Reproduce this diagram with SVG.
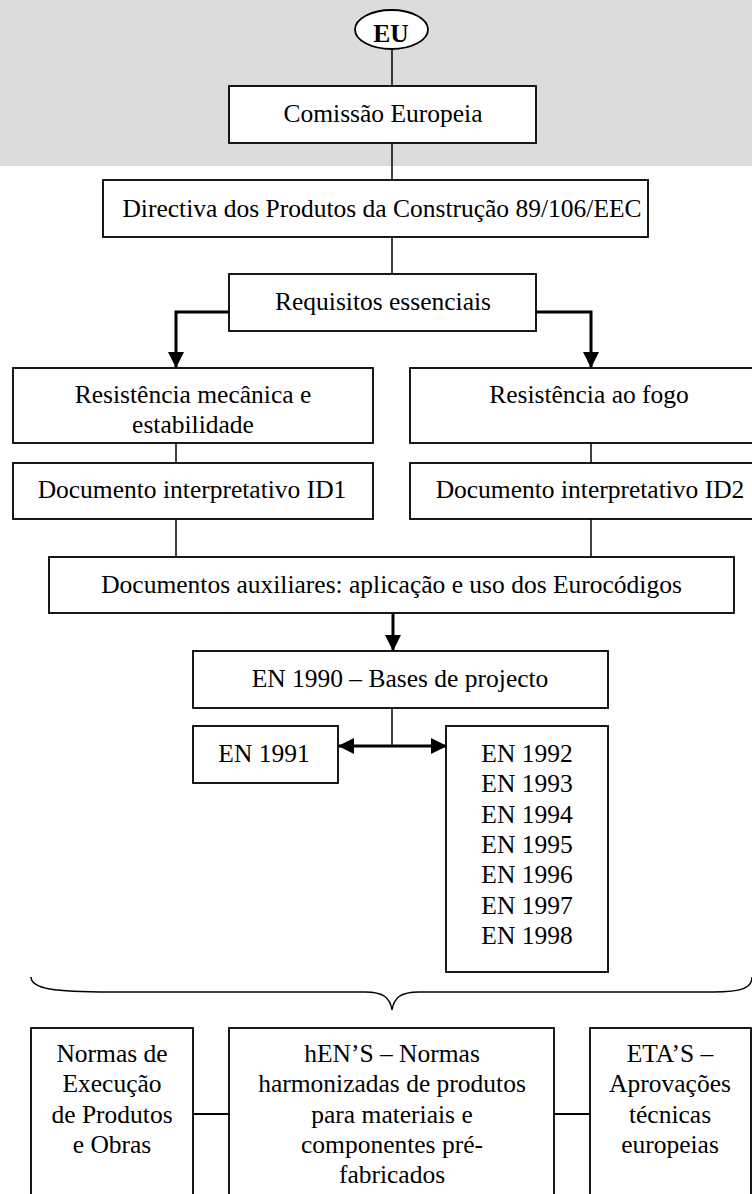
<svg xmlns="http://www.w3.org/2000/svg" width="752" height="1194" viewBox="0 0 752 1194">
<style>
.box{fill:#fff;stroke:#000;stroke-width:1.8}
.t{font-family:"Liberation Serif","Times New Roman",serif;font-size:25.5px;fill:#000;text-anchor:middle}
.thin{fill:none;stroke:#000;stroke-width:1.5}
.thick{fill:none;stroke:#000;stroke-width:3}
.mid{fill:none;stroke:#000;stroke-width:2}
</style>
<defs>
<marker id="ah" viewBox="0 0 16 16" refX="15" refY="8" markerWidth="16" markerHeight="16" markerUnits="userSpaceOnUse" orient="auto-start-reverse">
<path d="M0,0 L16,8 L0,16 z" fill="#000"/>
</marker>
</defs>
<rect x="0" y="0" width="752" height="166" fill="#dcdcdc"/>
<g id="connectors">
<line class="thin" x1="392" y1="49" x2="392" y2="86"/>
<line class="thin" x1="392" y1="143" x2="392" y2="180"/>
<line class="thin" x1="392" y1="237" x2="392" y2="274"/>
<path class="thick" d="M229,312 H176 V367" marker-end="url(#ah)"/>
<path class="thick" d="M536,312 H591 V367" marker-end="url(#ah)"/>
<line class="thin" x1="176" y1="443" x2="176" y2="463"/>
<line class="thin" x1="591" y1="443" x2="591" y2="463"/>
<line class="thin" x1="176" y1="519" x2="176" y2="557"/>
<line class="thin" x1="591" y1="519" x2="591" y2="557"/>
<line class="thick" x1="393" y1="613" x2="393" y2="650" marker-end="url(#ah)"/>
<line class="thin" x1="392" y1="708" x2="392" y2="746"/>
<line class="thick" x1="339" y1="746" x2="446" y2="746" marker-start="url(#ah)" marker-end="url(#ah)"/>
<path class="thin" d="M31,977 C31,989 55,992 110,992 L365,992 C384,992 390,998 392,1010 C394,998 400,992 419,992 L713,992 C742,992 752,988 752,977"/>
<line class="mid" x1="193" y1="1114" x2="229" y2="1114"/>
<line class="mid" x1="554" y1="1114" x2="590" y2="1114"/>
</g>
<g id="eu">
<ellipse cx="391.5" cy="29.5" rx="36.5" ry="19.5" class="box"/>
<text x="391" y="42" class="t" font-weight="bold">EU</text>
</g>
<g id="comissao">
<rect x="229" y="86" width="307" height="57" class="box"/>
<text x="383" y="122" class="t">Comissão Europeia</text>
</g>
<g id="directiva">
<rect x="103" y="180" width="545" height="57" class="box"/>
<text x="382" y="217" class="t">Directiva dos Produtos da Construção 89/106/EEC</text>
</g>
<g id="requisitos">
<rect x="229" y="274" width="307" height="57" class="box"/>
<text x="383" y="310" class="t">Requisitos essenciais</text>
</g>
<g id="resist-mec">
<rect x="13" y="368" width="360" height="75" class="box"/>
<text x="193" y="403" class="t">Resistência mecânica e</text>
<text x="193" y="433" class="t">estabilidade</text>
</g>
<g id="resist-fogo">
<rect x="410" y="368" width="360" height="75" class="box"/>
<text x="589" y="403" class="t">Resistência ao fogo</text>
</g>
<g id="id1">
<rect x="13" y="463" width="360" height="56" class="box"/>
<text x="192" y="498" class="t">Documento interpretativo ID1</text>
</g>
<g id="id2">
<rect x="410" y="463" width="360" height="56" class="box"/>
<text x="590" y="498" class="t">Documento interpretativo ID2</text>
</g>
<g id="auxiliares">
<rect x="49" y="557" width="685" height="56" class="box"/>
<text x="391.5" y="593" class="t">Documentos auxiliares: aplicação e uso dos Eurocódigos</text>
</g>
<g id="en1990">
<rect x="193" y="651" width="415" height="57" class="box"/>
<text x="400" y="687" class="t">EN 1990 – Bases de projecto</text>
</g>
<g id="en1991">
<rect x="193" y="726" width="145" height="57" class="box"/>
<text x="264" y="762" class="t">EN 1991</text>
</g>
<g id="en1992-1998">
<rect x="446" y="726" width="162" height="246" class="box"/>
<text x="527" y="762" class="t">EN 1992</text>
<text x="527" y="792" class="t">EN 1993</text>
<text x="527" y="823" class="t">EN 1994</text>
<text x="527" y="853" class="t">EN 1995</text>
<text x="527" y="883" class="t">EN 1996</text>
<text x="527" y="914" class="t">EN 1997</text>
<text x="527" y="944" class="t">EN 1998</text>
</g>
<g id="normas-execucao">
<rect x="31" y="1028" width="162" height="190" class="box"/>
<text x="112" y="1062" class="t">Normas de</text>
<text x="112" y="1092" class="t">Execução</text>
<text x="112" y="1123" class="t">de Produtos</text>
<text x="112" y="1153" class="t">e Obras</text>
</g>
<g id="hens">
<rect x="229" y="1028" width="325" height="190" class="box"/>
<text x="392" y="1062" class="t">hEN’S – Normas</text>
<text x="392" y="1092" class="t">harmonizadas de produtos</text>
<text x="392" y="1123" class="t">para materiais e</text>
<text x="392" y="1153" class="t">componentes pré-</text>
<text x="392" y="1183" class="t">fabricados</text>
</g>
<g id="etas">
<rect x="590" y="1028" width="161" height="190" class="box"/>
<text x="670" y="1062" class="t">ETA’S –</text>
<text x="670" y="1092" class="t">Aprovações</text>
<text x="670" y="1123" class="t">técnicas</text>
<text x="670" y="1153" class="t">europeias</text>
</g>
</svg>
